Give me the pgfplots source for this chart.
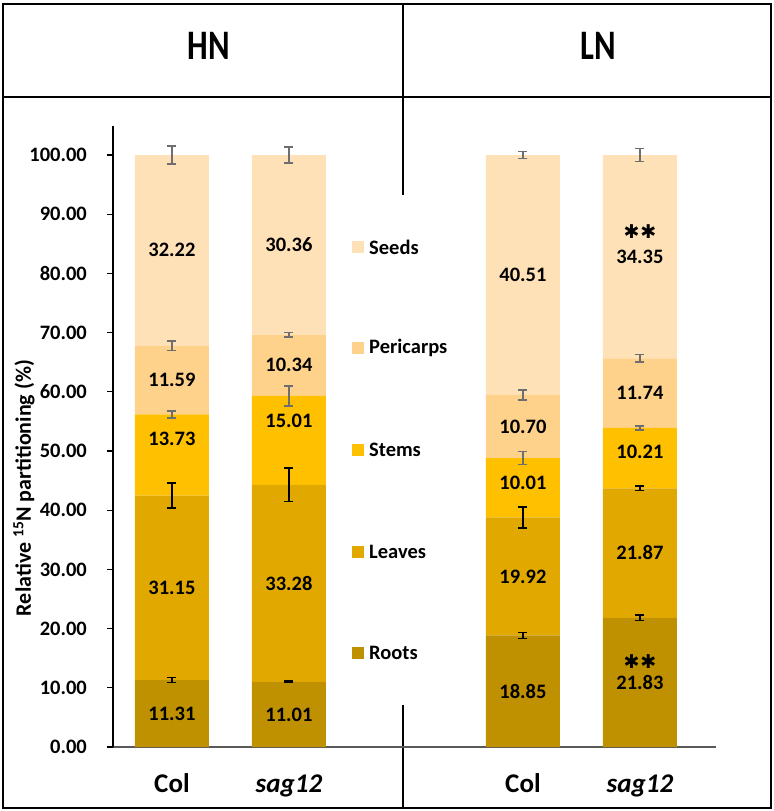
\documentclass[border=0pt]{standalone}
\usepackage{fontspec}
\setmainfont{Carlito}
\newfontfamily\djv{DejaVu Sans}
\usepackage{graphicx}
\usepackage{pgfplots}
\pgfplotsset{compat=1.18}
\usepackage{pgfplotstable}
\definecolor{cSeeds}{HTML}{FFE1B7}
\definecolor{cPeri}{HTML}{FFD28C}
\definecolor{cStems}{HTML}{FFC000}
\definecolor{cLeaves}{HTML}{E1A900}
\definecolor{cRoots}{HTML}{BF9000}
\definecolor{cErr}{HTML}{6E6E6E}
\definecolor{cAxis}{HTML}{595959}

\pgfplotstableread{
x roots leaves stems pericarps seeds
0 11.31 31.15 13.73 11.59 32.22
1 11.01 33.28 15.01 10.34 30.36
3 18.85 19.92 10.01 10.70 40.51
4 21.83 21.87 10.21 11.74 34.35
}\data

\pgfplotstableread{
x y e
0 11.31 0.4
1 11.01 0.15
3 18.85 0.5
4 21.83 0.5
0 42.46 2.1
1 44.29 2.8
3 38.77 1.75
4 43.70 0.35
}\errblack

\pgfplotstableread{
x y e
0 56.19 0.6
1 59.30 1.7
3 48.78 1.1
4 53.91 0.35
0 67.78 0.8
1 69.64 0.4
3 59.48 0.85
4 65.65 0.65
0 100 1.5
1 100 1.35
3 99.99 0.6
4 100 1.1
}\errgrey

\pgfplotstableread{
x y lab
0 5.66 11.31
1 5.51 11.01
3 9.43 18.85
4 10.9 21.83
0 26.9 31.15
1 27.65 33.28
3 28.8 19.92
4 32.8 21.87
0 52.1 13.73
1 55.1 15.01
3 44.7 10.01
4 49.8 10.21
0 62.0 11.59
1 64.5 10.34
3 54.1 10.70
4 59.8 11.74
0 83.9 32.22
1 84.8 30.36
3 79.7 40.51
4 82.8 34.35
}\labels

\pgfplotstableread{
x y
4 87.0
4 14.4
}\stars

\pgfplotsset{
  commonaxis/.style={
    at={(113bp,-747bp)}, anchor=south west,
    scale only axis, width=603bp, height=621bp,
    xmin=-0.504, xmax=4.65, ymin=0, ymax=104.9,
  }
}

\begin{document}
\begin{tikzpicture}
\useasboundingbox (0,0) rectangle (774bp,-811bp);

% frame
\draw[line width=2.5bp, black] (3bp,-4bp) rectangle (771bp,-808bp);
\draw[line width=2.5bp, black] (3bp,-97bp) -- (771bp,-97bp);
\draw[line width=2.5bp, black] (403bp,-4bp) -- (403bp,-195bp);
\draw[line width=2.5bp, black] (403bp,-705bp) -- (403bp,-808bp);

\node[font=\fontsize{42bp}{46bp}\selectfont\bfseries] at (209bp,-46bp) {\scalebox{0.78}[1]{HN}};
\node[font=\fontsize{42bp}{46bp}\selectfont\bfseries] at (598bp,-46bp) {\scalebox{0.78}[1]{LN}};

\begin{axis}[commonaxis,
  ybar stacked, bar width=74bp,
  axis x line=bottom, axis y line=left,
  x axis line style={draw=cAxis, line width=1.5bp, -},
  y axis line style={draw=black, line width=1.5bp, -},
  ytick={0,10,...,100},
  tick align=outside,
  major tick length=6bp,
  ytick style={draw=black, line width=1.2bp},
  xtick={0,1,3,4},
  xticklabels={Col,\textit{sag12},Col,\textit{sag12}},
  xtick style={draw=none},
  /pgf/number format/assume math mode=true,
  yticklabel style={/pgf/number format/.cd, fixed, fixed zerofill, precision=2, /tikz/.cd,
    font=\fontsize{20.5bp}{24bp}\selectfont\bfseries, anchor=east, inner sep=0pt, xshift=-20bp},
  xticklabel style={font=\fontsize{27bp}{30bp}\selectfont\bfseries, anchor=base, inner sep=0pt, yshift=-39.7bp},
]
\addplot[fill=cRoots, draw=none] table[x=x, y=roots] {\data};
\addplot[fill=cLeaves, draw=none] table[x=x, y=leaves] {\data};
\addplot[fill=cStems, draw=none] table[x=x, y=stems] {\data};
\addplot[fill=cPeri, draw=none] table[x=x, y=pericarps] {\data};
\addplot[fill=cSeeds, draw=none] table[x=x, y=seeds] {\data};
\end{axis}

\begin{axis}[commonaxis, hide axis, clip=false]
\addplot[draw=none, mark=none,
  error bars/.cd, y dir=both, y explicit,
  error bar style={line width=1.5bp, draw=black},
  error mark options={rotate=90, mark size=4.5bp, line width=1.5bp, draw=black}]
  table[x=x, y=y, y error=e] {\errblack};
\addplot[draw=none, mark=none,
  error bars/.cd, y dir=both, y explicit,
  error bar style={line width=1.5bp, draw=cErr},
  error mark options={rotate=90, mark size=4.5bp, line width=1.5bp, draw=cErr}]
  table[x=x, y=y, y error=e] {\errgrey};
\addplot[draw=none, mark=none, nodes near coords, point meta=explicit symbolic,
  every node near coord/.append style={anchor=center, inner sep=0pt, yshift=0pt,
    font=\fontsize{20.5bp}{24bp}\selectfont\bfseries, text=black}]
  table[x=x, y=y, meta=lab] {\labels};
\addplot[draw=none, mark=none, nodes near coords={\raisebox{-0.36em}[0.2em][0.2em]{✱\kern1bp✱}},
  every node near coord/.append style={anchor=center, inner sep=0pt, yshift=0pt,
    font=\fontsize{19bp}{21bp}\djv\bfseries, text=black}]
  table[x=x, y=y] {\stars};
\end{axis}

% y label
\node[rotate=90, font=\fontsize{22bp}{25bp}\selectfont\bfseries] at (24bp,-488bp) {Relative \textsuperscript{15}N partitioning (\%)};

% legend
\foreach \c/\t/\yy in {cSeeds/Seeds/247, cPeri/Pericarps/348, cStems/Stems/450, cLeaves/Leaves/552, cRoots/Roots/653}{
  \fill[\c] (352bp,-\yy bp+6bp) rectangle (364bp,-\yy bp-6bp);
  \node[anchor=west, inner sep=0pt, font=\fontsize{20.5bp}{24bp}\selectfont\bfseries] at (369bp,-\yy bp) {\t};
}
\end{tikzpicture}
\end{document}
